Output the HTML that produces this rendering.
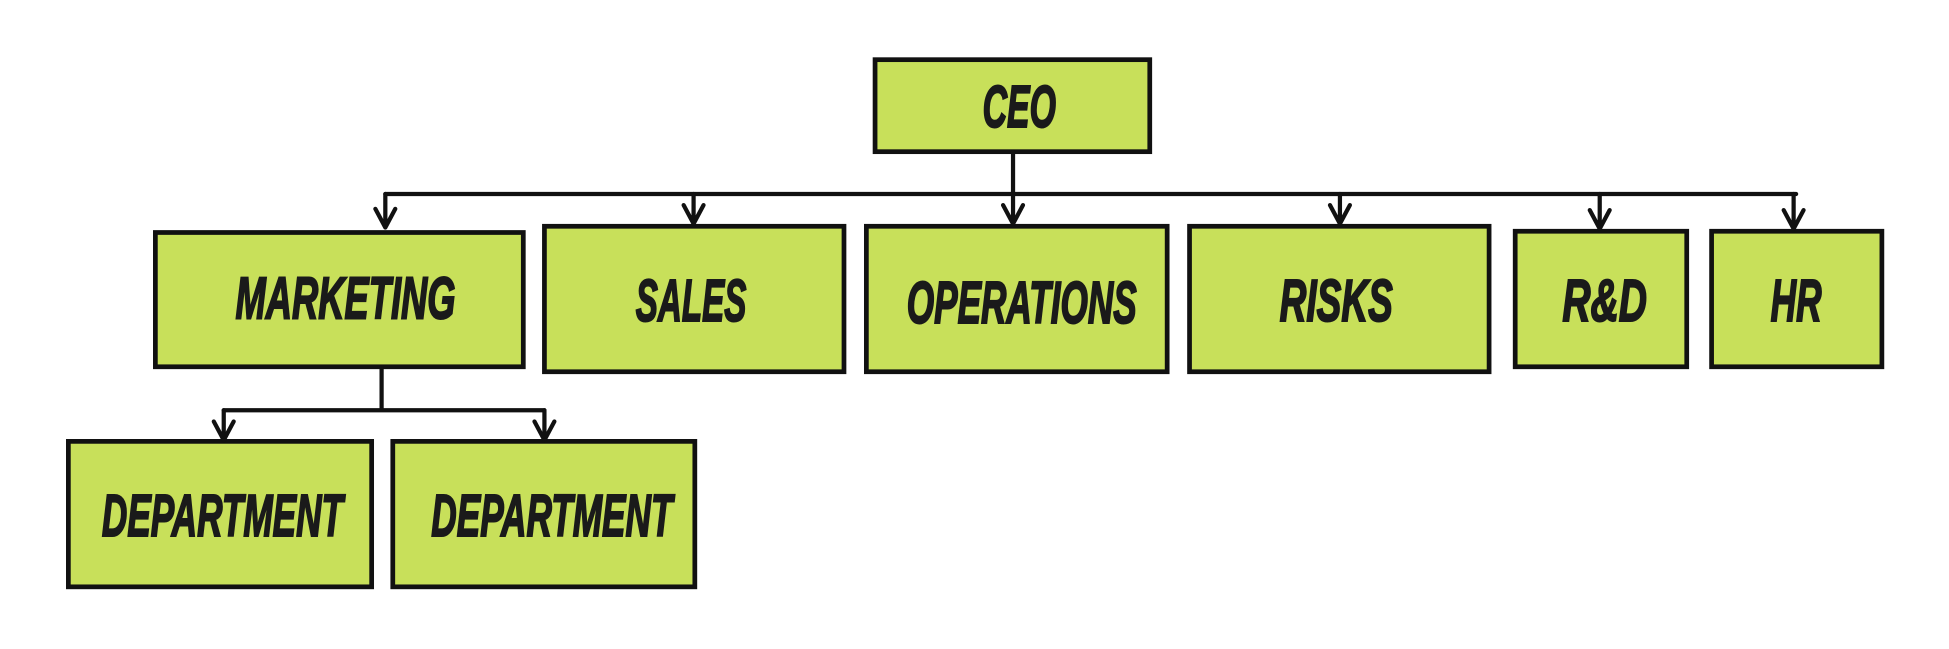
<!DOCTYPE html>
<html><head><meta charset="utf-8"><style>html,body{margin:0;padding:0;background:#fff}svg{display:block}</style></head>
<body>
<svg width="1949" height="649" viewBox="0 0 1568 522" preserveAspectRatio="none" xmlns="http://www.w3.org/2000/svg">
<g fill="#c8e05a" stroke="#111" stroke-width="3.8">
<rect x="704" y="48" width="221" height="74"/>
<rect x="125" y="187" width="296" height="108"/>
<rect x="438" y="182" width="241" height="117"/>
<rect x="697" y="182" width="242" height="117"/>
<rect x="957" y="182" width="241" height="117"/>
<rect x="1219" y="186" width="138" height="109"/>
<rect x="1377" y="186" width="137" height="109"/>
<rect x="55" y="355" width="244" height="117"/>
<rect x="316" y="355" width="243" height="117"/>
</g>
<g fill="none" stroke="#111" stroke-width="3.4" stroke-linecap="round" stroke-linejoin="round">
<path d="M815 122 V156 M310 156 H1445 M307 295 V330 M180 330 H438"/>
<path d="M310 156 V183 M302 168 L310 183 L318 168"/>
<path d="M558 156 V180 M550 165 L558 180 L566 165"/>
<path d="M815 156 V180 M807 165 L815 180 L823 165"/>
<path d="M1078 156 V180 M1070 165 L1078 180 L1086 165"/>
<path d="M1287 156 V184 M1279 169 L1287 184 L1295 169"/>
<path d="M1443 156 V184 M1435 169 L1443 184 L1451 169"/>
<path d="M180 330 V354 M172 339 L180 354 L188 339"/>
<path d="M438 330 V354 M430 339 L438 354 L446 339"/>
</g>
<g font-family="'Liberation Sans', sans-serif" font-weight="bold" font-style="italic" font-size="48" fill="#1a1a1a" stroke="#1a1a1a" stroke-width="1.6" text-anchor="middle">
<text x="820" y="102" textLength="59" lengthAdjust="spacingAndGlyphs">CEO</text>
<text x="278" y="256" textLength="177" lengthAdjust="spacingAndGlyphs">MARKETING</text>
<text x="556" y="258" textLength="89" lengthAdjust="spacingAndGlyphs">SALES</text>
<text x="822" y="260" textLength="185" lengthAdjust="spacingAndGlyphs">OPERATIONS</text>
<text x="1075" y="258" textLength="91" lengthAdjust="spacingAndGlyphs">RISKS</text>
<text x="1291" y="258" textLength="68" lengthAdjust="spacingAndGlyphs">R&amp;D</text>
<text x="1445" y="258" textLength="41" lengthAdjust="spacingAndGlyphs">HR</text>
<text x="179" y="431" textLength="194" lengthAdjust="spacingAndGlyphs">DEPARTMENT</text>
<text x="444" y="431" textLength="194" lengthAdjust="spacingAndGlyphs">DEPARTMENT</text>
</g>
</svg>
</body></html>
